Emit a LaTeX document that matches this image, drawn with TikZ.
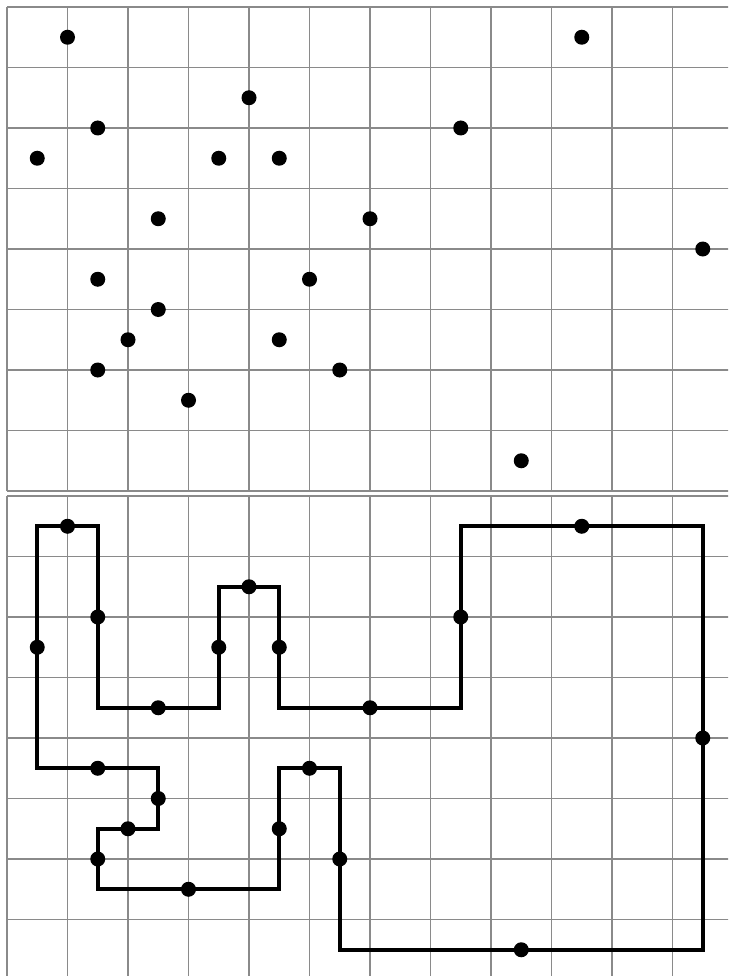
\documentclass[tikz,border=0pt]{standalone}
\begin{document}
\begin{tikzpicture}[x=1pt,y=-1pt,
  gridline/.style={draw={rgb,255:red,138;green,138;blue,138}, line width=1.6pt, xstep=60.5pt, ystep=60.5pt},
  dotmark/.style={fill=black},
  outline/.style={draw=black, line width=3.6pt, line join=miter}]
\useasboundingbox (0,0) rectangle (728,976);
\clip (0,0) rectangle (728,976);
\def\dotlist{1/0.5, 9.5/0.5, 4/1.5, 1.5/2, 7.5/2, 0.5/2.5, 3.5/2.5, 4.5/2.5, 2.5/3.5, 6/3.5, 11.5/4, 1.5/4.5, 5/4.5, 2.5/5, 2/5.5, 4.5/5.5, 1.5/6, 5.5/6, 3/6.5, 8.5/7.5}
% top panel: points only
\begin{scope}[shift={(7,7)}, x=60.5pt, y=-60.5pt]
  \draw[gridline] (0,0) grid (12,8);
  \foreach \u/\v in \dotlist { \fill[dotmark] (\u,\v) circle[radius=7.5pt]; }
\end{scope}
% bottom panel: points with enclosing outline
\begin{scope}[shift={(7,496)}, x=60.5pt, y=-60.5pt]
  \draw[gridline] (0,0) grid (12,8);
  \draw[outline] (0.5,0.5) -- (1.5,0.5) -- (1.5,3.5) -- (3.5,3.5) -- (3.5,1.5) -- (4.5,1.5) -- (4.5,3.5) -- (7.5,3.5) -- (7.5,0.5) -- (11.5,0.5) -- (11.5,7.5) -- (5.5,7.5) -- (5.5,4.5) -- (4.5,4.5) -- (4.5,6.5) -- (1.5,6.5) -- (1.5,5.5) -- (2.5,5.5) -- (2.5,4.5) -- (0.5,4.5) -- cycle;
  \foreach \u/\v in \dotlist { \fill[dotmark] (\u,\v) circle[radius=7.5pt]; }
\end{scope}
\end{tikzpicture}
\end{document}
